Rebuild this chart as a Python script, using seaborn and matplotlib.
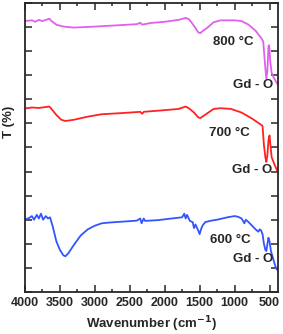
import matplotlib
matplotlib.use('Agg')
import matplotlib.pyplot as plt
import seaborn as sns
import pandas as pd
from matplotlib.ticker import MultipleLocator

# FTIR spectra (wavenumber, offset transmittance)
wn_800 = [4000, 3900, 3850, 3800, 3750, 3700, 3650, 3620, 3550, 3450, 3300, 3000, 2700, 2400,
          2350, 2320, 2200, 2000, 1800, 1700, 1650, 1580, 1520, 1490, 1450, 1400, 1300, 1200,
          1000, 900, 800, 700, 620, 590, 560, 545, 530, 515, 505, 490, 470, 440, 400, 380]
t_800 = [11.25, 11.28, 11.22, 11.3, 11.25, 11.3, 11.35, 11.25, 11.1, 11.02, 10.98, 11.02, 11.07, 11.12,
         11.18, 11.1, 11.17, 11.22, 11.3, 11.38, 11.32, 11.05, 10.78, 10.75, 10.85, 10.95, 11.2, 11.28,
         11.28, 11.25, 11.1, 10.85, 10.55, 10.4, 9.3, 8.85, 9.2, 10.2, 10.25, 9.6, 9.1, 8.9, 8.7, 8.6]

wn_700 = [4000, 3900, 3800, 3700, 3650, 3620, 3550, 3480, 3420, 3300, 3100, 2900, 2600, 2350,
          2320, 2300, 2000, 1800, 1700, 1650, 1580, 1520, 1490, 1450, 1400, 1300, 1200, 1050,
          900, 750, 650, 600, 580, 560, 545, 530, 515, 500, 490, 470, 430, 400, 380]
t_700 = [7.62, 7.66, 7.64, 7.68, 7.7, 7.6, 7.35, 7.15, 7.1, 7.15, 7.28, 7.38, 7.43, 7.48,
         7.4, 7.48, 7.55, 7.6, 7.7, 7.62, 7.45, 7.25, 7.22, 7.3, 7.4, 7.6, 7.63, 7.6,
         7.45, 7.2, 7.0, 6.9, 6.1, 5.6, 5.4, 5.7, 6.3, 6.5, 6.2, 5.6, 5.3, 5.1, 4.95]

wn_600 = [4000, 3950, 3900, 3870, 3830, 3800, 3770, 3740, 3700, 3670, 3640, 3600, 3550, 3500,
          3450, 3420, 3380, 3300, 3200, 3100, 3000, 2900, 2800, 2600, 2400, 2350, 2330, 2300,
          2280, 2100, 1900, 1750, 1720, 1700, 1680, 1640, 1600, 1580, 1560, 1520, 1500, 1480,
          1460, 1420, 1350, 1250, 1100, 1000, 950, 900, 860, 840, 800, 750, 700, 660, 640, 620,
          600, 580, 560, 545, 530, 515, 500, 480, 450, 420, 400, 380]
t_600 = [3.02, 3.05, 3.15, 3.0, 3.2, 3.05, 3.25, 3.0, 3.15, 3.05, 3.1, 2.7, 2.1, 1.75,
         1.52, 1.48, 1.6, 1.95, 2.35, 2.6, 2.75, 2.85, 2.88, 2.92, 2.96, 3.05, 2.85, 3.05,
         2.95, 2.98, 3.05, 3.1, 3.25, 3.05, 3.2, 2.95, 2.9, 2.65, 2.8, 2.55, 2.4, 2.6,
         2.75, 2.9, 2.95, 3.0, 3.1, 3.15, 3.12, 3.05, 2.85, 3.0, 2.9, 2.75, 2.6, 2.5, 2.6, 2.55,
         2.4, 2.0, 1.75, 1.7, 2.0, 2.25, 2.1, 1.7, 1.4, 1.1, 0.95, 0.9]

temps = ['800 °C', '700 °C', '600 °C']
colors = ['#e060ee', '#ff2222', '#3355ff']

sns.set_style('ticks')
plt.rcParams['font.family'] = ['Liberation Sans', 'DejaVu Sans']
plt.rcParams['font.weight'] = 'bold'

fig, ax = plt.subplots(figsize=(2.83, 3.34), dpi=100)
fig.subplots_adjust(left=0.088, right=0.982, bottom=0.126, top=0.991)

spectra = [(wn_800, t_800), (wn_700, t_700), (wn_600, t_600)]
for (wn, t), c in zip(spectra, colors):
    d = pd.DataFrame({'wn': wn, 't': t})
    sns.lineplot(data=d, x='wn', y='t', color=c, linewidth=1.3, ax=ax, sort=False)

# labels next to each curve
label_pos = [(1017, 10.37), (1074, 6.6), (1060, 2.16)]
gd_pos = [(730, 8.59), (744, 5.06), (730, 1.37)]
for name, (x, y), (gx, gy) in zip(temps, label_pos, gd_pos):
    ax.text(x, y, name, ha='center', va='center', fontsize=9.5, fontweight='bold')
    ax.text(gx, gy, 'Gd - O', ha='center', va='center', fontsize=9.5, fontweight='bold')

ax.set_xlim(4000, 380)
ax.set_ylim(0, 12)
ax.xaxis.set_major_locator(MultipleLocator(500))
ax.xaxis.set_minor_locator(MultipleLocator(250))
ax.yaxis.set_major_locator(MultipleLocator(1))
ax.tick_params(which='both', direction='in', top=True, right=True, width=1.1)
ax.tick_params(which='major', length=5, labelsize=9)
ax.tick_params(which='minor', length=2.5)
ax.set_yticklabels([])
for s in ax.spines.values():
    s.set_linewidth(1.3)

ax.set_xlabel('Wavenumber (cm$^{\\mathbf{-1}}$)', fontsize=9.5, fontweight='bold', labelpad=4)
ax.set_ylabel('T (%)', fontsize=9.5, fontweight='bold')
ax.yaxis.set_label_coords(-0.04, 0.588)

fig.savefig('out.png', dpi=100)
